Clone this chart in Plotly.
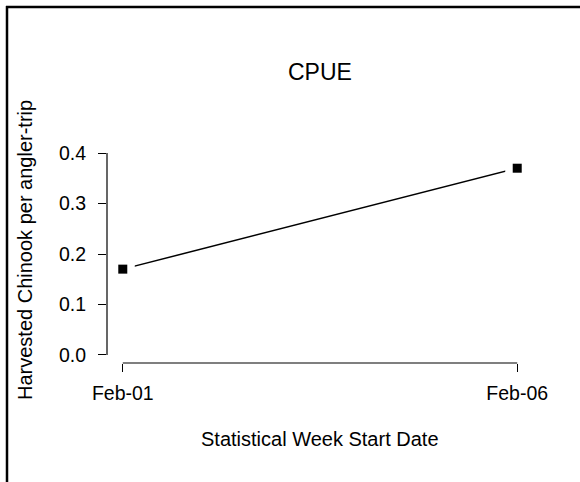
import pandas as pd
import plotly.graph_objects as go

# Data
week_start = ["2021-02-01", "2021-02-06"]
cpue = [0.17, 0.37]
y_ticks = [0.0, 0.1, 0.2, 0.3, 0.4]
title_text = "CPUE"
x_title = "Statistical Week Start Date"
y_title = "Harvested Chinook per angler-trip"

dates = pd.to_datetime(week_start)
span = dates.max() - dates.min()
pad = span * 0.04
x_range = [dates.min() - pad, dates.max() + pad]
y_lo, y_hi = min(y_ticks), max(y_ticks)
y_pad = (y_hi - y_lo) * 0.04
y_range = [y_lo - y_pad, y_hi + y_pad]

W, H = 580, 482
ml, mr, mt, mb = 107, 47, 145, 119
pw, ph = W - ml - mr, H - mt - mb

def px_to_paper_x(px):
    return (px - ml) / pw

def px_to_paper_y(py):
    return (H - mb - py) / ph

font = "Liberation Sans, Arial, sans-serif"

fig = go.Figure()
fig.add_trace(go.Scatter(x=dates, y=cpue, mode="lines",
                         line=dict(color="black", width=1.5),
                         hoverinfo="skip", showlegend=False))
# white masks to give R type="b" gaps
fig.add_trace(go.Scatter(x=dates, y=cpue, mode="markers",
                         marker=dict(symbol="square", size=24, color="white"),
                         hoverinfo="skip", showlegend=False))
fig.add_trace(go.Scatter(x=dates, y=cpue, mode="markers",
                         marker=dict(symbol="square", size=9, color="black"),
                         showlegend=False))

shapes = [
    # y axis line spanning tick range
    dict(type="line", xref="paper", yref="y", x0=0, x1=0, y0=y_lo, y1=y_hi,
         line=dict(color="black", width=1.2)),
    # x axis line spanning data range
    dict(type="line", xref="x", yref="paper", x0=dates.min(), x1=dates.max(),
         y0=0, y1=0, line=dict(color="black", width=1.2)),
    # outer frame (top and left visible)
    dict(type="line", xref="paper", yref="paper",
         x0=px_to_paper_x(6), x1=px_to_paper_x(600),
         y0=px_to_paper_y(7), y1=px_to_paper_y(7),
         line=dict(color="black", width=2.5)),
    dict(type="line", xref="paper", yref="paper",
         x0=px_to_paper_x(7), x1=px_to_paper_x(7),
         y0=px_to_paper_y(6), y1=px_to_paper_y(500),
         line=dict(color="black", width=2.5)),
]

annotations = [
    dict(text=title_text, xref="paper", yref="paper", x=0.5, y=px_to_paper_y(72),
         xanchor="center", yanchor="middle", showarrow=False,
         font=dict(family=font, size=23, color="black")),
    dict(text=x_title, xref="paper", yref="paper", x=0.5, y=px_to_paper_y(439),
         xanchor="center", yanchor="middle", showarrow=False,
         font=dict(family=font, size=20, color="black")),
    dict(text=y_title, xref="paper", yref="paper", x=px_to_paper_x(25),
         y=px_to_paper_y(250),
         xanchor="center", yanchor="middle", showarrow=False, textangle=-90,
         font=dict(family=font, size=20, color="black")),
]

fig.update_layout(
    width=W, height=H,
    margin=dict(l=ml, r=mr, t=mt, b=mb),
    paper_bgcolor="white", plot_bgcolor="white",
    shapes=shapes, annotations=annotations,
    font=dict(family=font, size=19.5, color="black"),
    xaxis=dict(type="date", range=x_range, tickvals=dates, tickformat="%b-%d",
               showgrid=False, zeroline=False, showline=False,
               ticks="outside", ticklen=8, tickwidth=1.2, tickcolor="black",
               ticklabelstandoff=5, fixedrange=True),
    yaxis=dict(range=y_range, tickvals=y_ticks, tickformat=".1f",
               showgrid=False, zeroline=False, showline=False,
               ticks="outside", ticklen=8, tickwidth=1.2, tickcolor="black",
               ticklabelstandoff=8, fixedrange=True),
)

fig.write_html("out.html", config={"displayModeBar": False},
               post_script="document.body.style.margin='0';")
